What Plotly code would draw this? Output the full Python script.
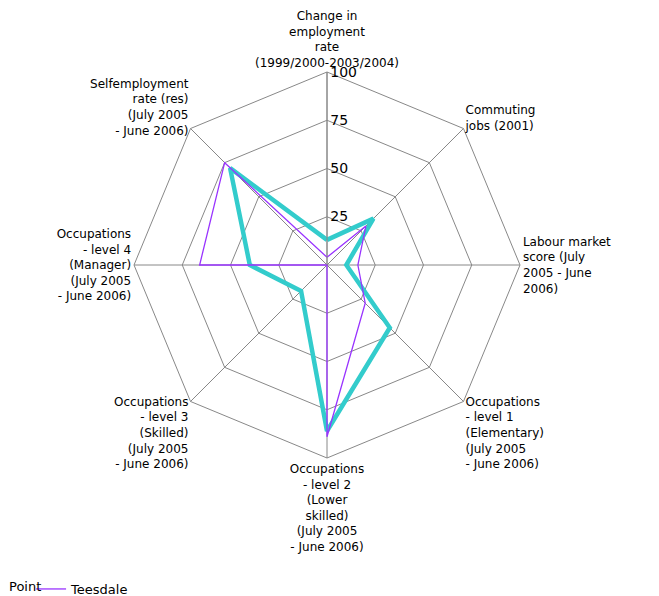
import plotly.graph_objects as go

categories = [
    "Change in<br>employment<br>rate<br>(1999/2000-2003/2004)",
    "Commuting<br>jobs (2001)",
    "Labour market<br>score (July<br>2005 - June<br>2006)",
    "Occupations<br>- level 1<br>(Elementary)<br>(July 2005<br>- June 2006)",
    "Occupations<br>- level 2<br>(Lower<br>skilled)<br>(July 2005<br>- June 2006)",
    "Occupations<br>- level 3<br>(Skilled)<br>(July 2005<br>- June 2006)",
    "Occupations<br>- level 4<br>(Manager)<br>(July 2005<br>- June 2006)",
    "Selfemployment<br>rate (res)<br>(July 2005<br>- June 2006)",
]
point_values = [13, 34, 10, 46, 86, 19, 40, 71]
teesdale_values = [4, 28.5, 16, 28, 89, 0, 66, 75]
radial_ticks = [25, 50, 75, 100]

FONT = "DejaVu Sans"
theta_closed = categories + categories[:1]

fig = go.Figure()
fig.add_trace(go.Scatterpolar(
    r=point_values + point_values[:1], theta=theta_closed, mode="lines",
    name="Point", line=dict(color="#33CCCC", width=4.5), showlegend=False,
))
fig.add_trace(go.Scatterpolar(
    r=teesdale_values + teesdale_values[:1], theta=theta_closed, mode="lines",
    name="Teesdale", line=dict(color="#9933FF", width=1.3),
))

fig.update_layout(
    width=659, height=596,
    paper_bgcolor="white", plot_bgcolor="white",
    margin=dict(l=126, r=147, t=64, b=146),
    font=dict(family=FONT, size=12, color="black"),
    polar=dict(
        bgcolor="white",
        gridshape="linear",
        radialaxis=dict(
            range=[0, 100], tickvals=radial_ticks, ticktext=[str(v) for v in radial_ticks],
            angle=90, tickangle=90, showline=True, linecolor="#888888", linewidth=1,
            gridcolor="#888888", gridwidth=1, ticks="",
            tickfont=dict(family=FONT, size=14, color="black"),
        ),
        angularaxis=dict(
            direction="clockwise", rotation=90, linecolor="#888888", linewidth=1,
            gridcolor="#888888", gridwidth=1, ticks="",
            tickfont=dict(family=FONT, size=12, color="black"),
        ),
    ),
    showlegend=True,
    legend=dict(
        orientation="h", x=0.035, y=0.0, xref="container", yref="container",
        xanchor="left", yanchor="bottom",
        font=dict(family=FONT, size=13, color="black"),
        itemwidth=30, bgcolor="rgba(0,0,0,0)",
    ),
    annotations=[dict(
        text="Point", x=-0.328, y=-0.334, xref="paper", yref="paper",
        xanchor="left", yanchor="middle", showarrow=False,
        font=dict(family=FONT, size=13, color="black"),
    )],
)

fig.write_html("out.html")
